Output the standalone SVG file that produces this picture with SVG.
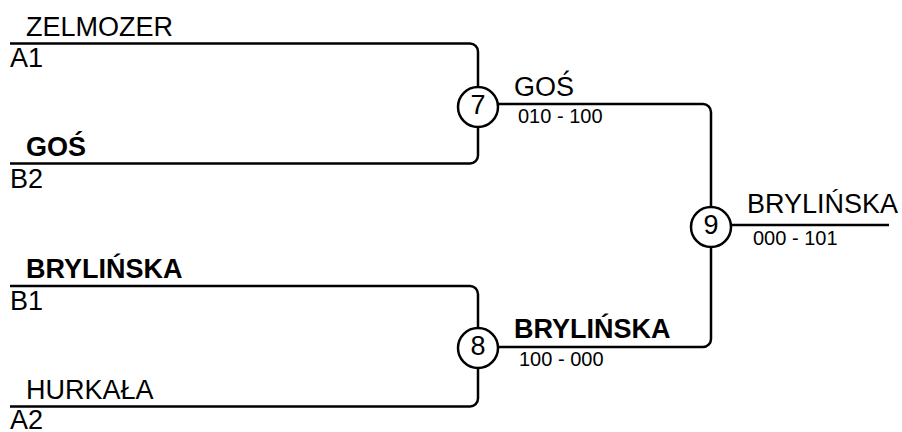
<svg xmlns="http://www.w3.org/2000/svg" width="902" height="432" viewBox="0 0 902 432">
<style>
text{font-family:"Liberation Sans",Arial,sans-serif;fill:#000}
.n{font-size:27px}
.b{font-size:27px;font-weight:bold}
.s{font-size:20px}
.d{font-size:27px;text-anchor:middle}
.c{fill:none;stroke:#000;stroke-width:2.5}
circle{fill:#fff;stroke:#000;stroke-width:2.5}
</style>
<rect width="902" height="432" fill="#fff"/>
<g id="connectors">
<path class="c" d="M10,43.5 H470 A8,8 0 0 1 478,51.5 V87"/>
<path class="c" d="M478,127 V155.5 A8,8 0 0 1 470,163.5 H10"/>
<path class="c" d="M10,286 H470 A8,8 0 0 1 478,294 V328"/>
<path class="c" d="M478,368 V398.5 A8,8 0 0 1 470,406.5 H10"/>
<path class="c" d="M498,104 H703 A8,8 0 0 1 711,112 V207"/>
<path class="c" d="M711,247 V339 A8,8 0 0 1 703,347 H498"/>
<path class="c" d="M731,225 H889"/>
</g>
<g id="slot-A1">
<text class="n" x="26" y="36">ZELMOZER</text>
<text class="n" x="10" y="67">A1</text>
</g>
<g id="slot-B2">
<text class="b" x="26" y="156">GOŚ</text>
<text class="n" x="10" y="188">B2</text>
</g>
<g id="slot-B1">
<text class="b" x="26" y="278">BRYLIŃSKA</text>
<text class="n" x="10" y="310">B1</text>
</g>
<g id="slot-A2">
<text class="n" x="26" y="399">HURKAŁA</text>
<text class="n" x="10" y="429">A2</text>
</g>
<g id="match-7">
<circle cx="478" cy="107" r="20"/>
<text class="d" x="478" y="114">7</text>
<text class="n" x="514" y="96">GOŚ</text>
<text class="s" x="518" y="123">010 - 100</text>
</g>
<g id="match-8">
<circle cx="478" cy="348" r="20"/>
<text class="d" x="478" y="355">8</text>
<text class="b" x="514" y="338">BRYLIŃSKA</text>
<text class="s" x="519" y="366">100 - 000</text>
</g>
<g id="match-9">
<circle cx="711" cy="227" r="20"/>
<text class="d" x="711" y="234">9</text>
<text class="n" x="747" y="213">BRYLIŃSKA</text>
<text class="s" x="753" y="245">000 - 101</text>
</g>
</svg>
